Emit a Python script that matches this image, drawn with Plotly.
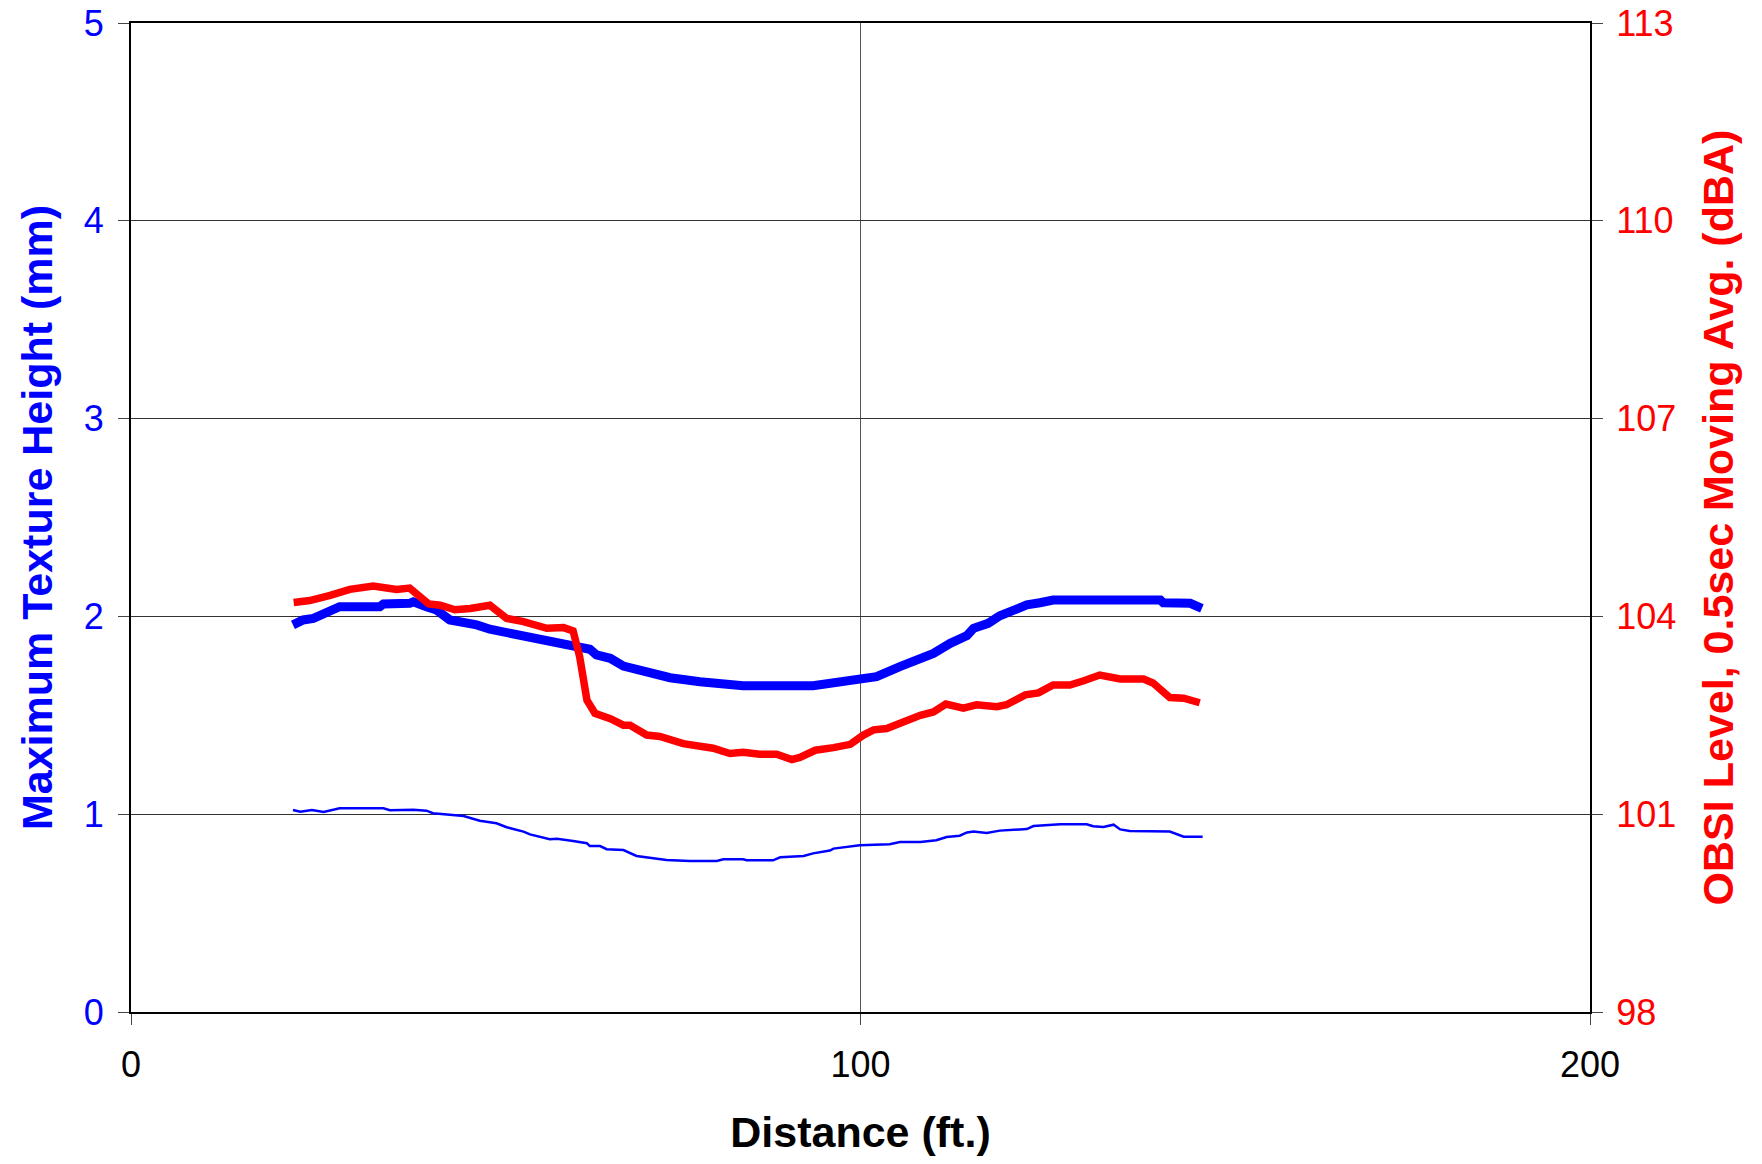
import plotly.graph_objects as go

# Maximum texture height, thick trace (mm)
tex_max_x = [22.2, 23.6, 25.0, 26.8, 28.6, 34.1, 34.6, 38.2, 38.7, 40.5, 41.9, 43.7, 45.6, 47.4,
             49.2, 51.0, 52.9, 55.6, 57.9, 60.2, 62.9, 63.8, 65.7, 67.5, 70.2, 73.9, 78.0, 83.9,
             93.5, 96.3, 99.9, 102.2, 105.4, 108.2, 110.0, 112.3, 114.6, 115.5, 117.5, 119.1,
             120.9, 122.8, 124.6, 126.4, 141.1, 141.5, 145.2, 146.8]
tex_max_y = [1.957, 1.982, 1.990, 2.020, 2.049, 2.049, 2.063, 2.066, 2.074, 2.049, 2.032, 1.982,
             1.973, 1.957, 1.935, 1.923, 1.911, 1.889, 1.872, 1.855, 1.834, 1.805, 1.788, 1.749,
             1.720, 1.690, 1.670, 1.650, 1.650, 1.662, 1.678, 1.695, 1.746, 1.788, 1.813, 1.864,
             1.903, 1.940, 1.965, 2.003, 2.032, 2.058, 2.069, 2.083, 2.083, 2.069, 2.066, 2.041]

# Thin trace (mm)
tex_thin_x = [22.2, 23.2, 24.8, 26.4, 28.6, 34.6, 35.5, 38.7, 40.5, 41.4, 45.6, 47.8, 50.1, 51.5,
              53.8, 54.7, 57.4, 58.4, 60.6, 62.5, 62.9, 64.3, 65.2, 67.5, 69.3, 71.1, 73.4, 76.6,
              80.3, 81.2, 83.9, 84.4, 88.0, 89.0, 92.2, 93.5, 95.8, 96.3, 99.9, 104.0, 105.4,
              108.2, 110.4, 111.8, 113.6, 114.6, 115.5, 117.3, 119.1, 122.8, 123.7, 127.4, 131.0,
              131.9, 133.3, 134.7, 135.6, 136.9, 142.4, 144.3, 146.9]
tex_thin_y = [1.021, 1.013, 1.021, 1.011, 1.030, 1.030, 1.020, 1.023, 1.018, 1.005, 0.991, 0.967,
              0.954, 0.934, 0.912, 0.898, 0.873, 0.876, 0.865, 0.853, 0.839, 0.839, 0.823, 0.819,
              0.789, 0.780, 0.768, 0.763, 0.763, 0.772, 0.772, 0.767, 0.767, 0.782, 0.789, 0.802,
              0.816, 0.826, 0.843, 0.848, 0.859, 0.859, 0.868, 0.885, 0.891, 0.908, 0.912, 0.905,
              0.917, 0.925, 0.940, 0.949, 0.949, 0.939, 0.935, 0.947, 0.923, 0.915, 0.912, 0.886,
              0.886]

# OBSI level, 0.5 s moving average (dBA)
obsi_x = [22.3, 24.5, 27.3, 30.0, 33.2, 36.4, 38.2, 39.2, 40.8, 42.4, 44.4, 46.5, 49.2, 51.5,
          53.8, 57.0, 59.3, 60.6, 61.5, 62.5, 63.6, 65.7, 67.5, 68.4, 70.7, 72.5, 75.7, 79.8,
          82.1, 83.9, 86.2, 88.5, 90.6, 91.7, 93.8, 96.3, 98.6, 100.4, 101.8, 103.6, 105.4,
          108.2, 110.0, 111.7, 114.1, 115.9, 118.7, 120.0, 122.6, 124.4, 126.4, 128.7, 130.5,
          132.8, 135.6, 138.8, 140.1, 142.4, 144.3, 145.2, 146.5]
obsi_db = [104.21, 104.24, 104.32, 104.41, 104.46, 104.41, 104.43, 104.35, 104.19, 104.17,
           104.10, 104.12, 104.17, 103.97, 103.92, 103.82, 103.83, 103.78, 103.39, 102.73,
           102.53, 102.45, 102.35, 102.35, 102.20, 102.18, 102.07, 102.00, 101.92, 101.94,
           101.91, 101.91, 101.83, 101.86, 101.97, 102.01, 102.06, 102.20, 102.28, 102.30,
           102.38, 102.50, 102.55, 102.67, 102.61, 102.66, 102.63, 102.66, 102.81, 102.84,
           102.96, 102.96, 103.02, 103.11, 103.05, 103.05, 102.99, 102.77, 102.76, 102.72,
           102.69]

x_ticks = [0, 100, 200]
y_ticks = [0, 1, 2, 3, 4, 5]
y2_ticks = [98, 101, 104, 107, 110, 113]

FONT = "Liberation Sans, Arial, sans-serif"
BLUE = "#0000ff"
RED = "#ff0000"

fig = go.Figure()
fig.add_trace(go.Scatter(x=tex_thin_x, y=tex_thin_y, mode="lines",
                         line=dict(color=BLUE, width=2.5), yaxis="y"))
fig.add_trace(go.Scatter(x=tex_max_x, y=tex_max_y, mode="lines",
                         line=dict(color=BLUE, width=9), yaxis="y"))
fig.add_trace(go.Scatter(x=obsi_x, y=obsi_db, mode="lines",
                         line=dict(color=RED, width=7.5), yaxis="y2"))

fig.update_layout(
    width=1762, height=1164,
    margin=dict(l=131, r=172, t=23, b=152),
    paper_bgcolor="white", plot_bgcolor="white",
    showlegend=False,
    font=dict(family=FONT, size=36, color="black"),
    xaxis=dict(
        range=[0, 200], tickvals=x_ticks, ticktext=[str(v) for v in x_ticks],
        ticks="outside", ticklen=11, tickcolor="#444", tickwidth=1,
        showline=True, linecolor="black", linewidth=2, mirror=True,
        showgrid=True, gridcolor="#555", gridwidth=1, zeroline=False,
        automargin=False, ticklabelstandoff=9,
        tickfont=dict(size=36, color="black"),
        title=dict(text="<b>Distance (ft.)</b>", font=dict(size=43, color="black"), standoff=33),
    ),
    yaxis=dict(
        range=[0, 5], tickvals=y_ticks, ticktext=[str(v) for v in y_ticks],
        ticks="outside", ticklen=11, tickcolor="#444", tickwidth=1,
        showline=True, linecolor="black", linewidth=2,
        showgrid=True, gridcolor="#333", gridwidth=1, zeroline=False,
        automargin=False, ticklabelstandoff=7,
        tickfont=dict(size=36, color=BLUE),
        title=dict(text="<b>Maximum Texture Height (mm)</b>", font=dict(size=43, color=BLUE), standoff=18),
    ),
    yaxis2=dict(
        range=[98, 113], tickvals=y2_ticks, ticktext=[str(v) for v in y2_ticks],
        overlaying="y", side="right",
        ticks="outside", ticklen=11, tickcolor="#444", tickwidth=1,
        showline=True, linecolor="black", linewidth=2,
        showgrid=False, zeroline=False,
        automargin=False, ticklabelstandoff=6,
        tickfont=dict(size=36, color=RED),
        title=dict(text="<b>OBSI Level, 0.5sec Moving Avg. (dBA)</b>", font=dict(size=43, color=RED), standoff=28),
    ),
)

fig.write_html("out.html")
